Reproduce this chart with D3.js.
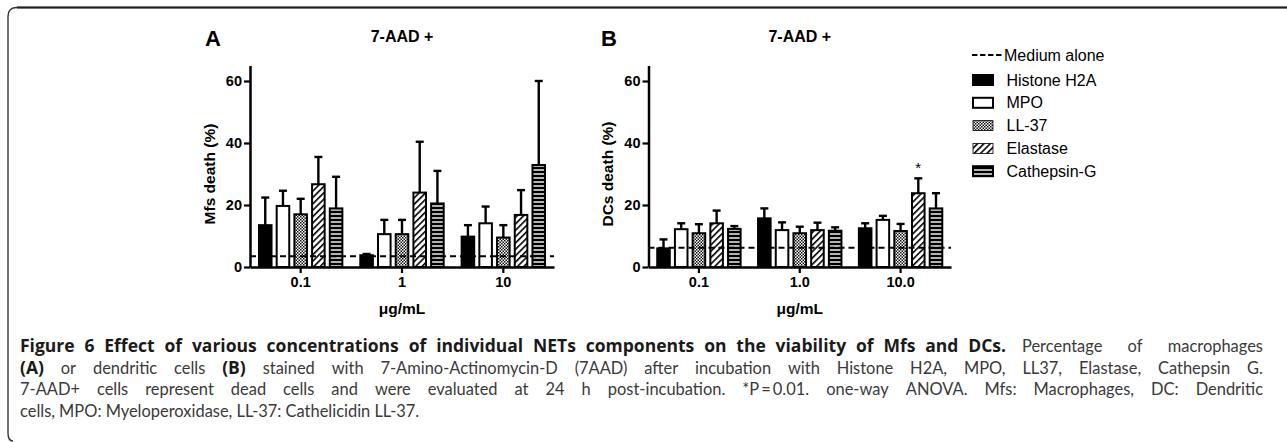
<!DOCTYPE html>
<html>
<head>
<meta charset="utf-8">
<script src="https://cdn.jsdelivr.net/npm/d3@7"></script>
<style>
  body { margin: 0; background: #fff; }
  svg { display: block; }
  .chart text { font-family: "Liberation Sans", Arial, sans-serif; fill: #000; }
  .caption text { font-family: Lato, "Open Sans", sans-serif; }
</style>
</head>
<body>
<div id="chart-container"></div>
<script>
// values (% dead cells, mean and SD)
const series = ["Histone H2A", "MPO", "LL-37", "Elastase", "Cathepsin-G"];
const dosesA = ["0.1", "1", "10"];
const dosesB = ["0.1", "1.0", "10.0"];
const yTicks = [0, 20, 40, 60];

const meanA = [
  [13.5, 3.8, 9.8],
  [19.7, 10.6, 14.1],
  [17.0, 10.6, 9.5],
  [26.7, 24.0, 16.8],
  [18.9, 20.5, 32.9]
];
const sdA = [
  [8.9, 0.4, 3.7],
  [4.9, 4.6, 5.4],
  [5.0, 4.6, 4.0],
  [8.8, 16.4, 8.0],
  [10.2, 10.5, 27.1]
];
const meanB = [
  [6.0, 15.7, 12.5],
  [12.2, 11.9, 15.2],
  [10.9, 10.9, 11.6],
  [14.1, 11.9, 23.8],
  [12.3, 11.7, 18.9]
];
const sdB = [
  [2.9, 3.2, 1.6],
  [1.9, 2.5, 1.3],
  [2.9, 2.1, 2.3],
  [4.1, 2.4, 4.8],
  [0.9, 1.1, 4.9]
];
const mediumA = 3.5;
const mediumB = 6.2;

const width = 1287, height = 442;

const svg = d3.select("#chart-container").append("svg")
  .attr("width", width).attr("height", height);

// fill patterns
const defs = svg.append("defs");
const chk = defs.append("pattern").attr("id", "chk")
  .attr("patternUnits", "userSpaceOnUse").attr("width", 3).attr("height", 3);
chk.append("rect").attr("width", 3).attr("height", 3).attr("fill", "#fff");
chk.append("rect").attr("width", 1.5).attr("height", 1.5).attr("fill", "#111");
chk.append("rect").attr("x", 1.5).attr("y", 1.5).attr("width", 1.5).attr("height", 1.5).attr("fill", "#111");

const hatch = defs.append("pattern").attr("id", "hatch")
  .attr("patternUnits", "userSpaceOnUse").attr("width", 4.5).attr("height", 4.5)
  .attr("patternTransform", "rotate(45)");
hatch.append("rect").attr("width", 4.5).attr("height", 4.5).attr("fill", "#fff");
hatch.append("line").attr("x1", 0.8).attr("x2", 0.8).attr("y1", 0).attr("y2", 4.5)
  .attr("stroke", "#000").attr("stroke-width", 1.6);

const stripe = defs.append("pattern").attr("id", "stripe")
  .attr("patternUnits", "userSpaceOnUse").attr("width", 4).attr("height", 4);
stripe.append("rect").attr("width", 4).attr("height", 4).attr("fill", "#000");
stripe.append("rect").attr("y", 1.3).attr("width", 4).attr("height", 1.4).attr("fill", "#fff");

const fills = ["#000", "#fff", "url(#chk)", "url(#hatch)", "url(#stripe)"];

// figure frame
svg.append("path")
  .attr("d", "M1287,7.5 H17 Q8,7.5 8,16.5 V433 Q8,441 13,441")
  .attr("fill", "none").attr("stroke", "#333").attr("stroke-width", 1.4);
svg.append("line").attr("x1", 17).attr("x2", 1287).attr("y1", 7.5).attr("y2", 7.5)
  .attr("stroke", "#222").attr("stroke-width", 2.2);

const chart = svg.append("g").attr("class", "chart");

function drawPanel(opt) {
  const g = chart.append("g");
  const y = d3.scaleLinear().domain([0, 65]).range([267, 65.5]);
  const x = d3.scaleBand().domain(opt.doses).range(opt.xRange).padding(0);
  const xi = d3.scaleBand().domain(series).range([-41.7, 41.7])
    .paddingInner(0.29).paddingOuter(0);

  // bars
  series.forEach((s, si) => {
    const rows = opt.doses.map((d, di) => ({ dose: d, m: opt.mean[si][di], sd: opt.sd[si][di] }));
    const cx = d => x(d.dose) + x.bandwidth() / 2 + xi(s);

    // error bars (upper only)
    g.selectAll(null).data(rows).enter().append("line")
      .attr("x1", d => cx(d) + xi.bandwidth() / 2).attr("x2", d => cx(d) + xi.bandwidth() / 2)
      .attr("y1", d => y(d.m)).attr("y2", d => y(d.m + d.sd))
      .attr("stroke", "#000").attr("stroke-width", 2.4);
    g.selectAll(null).data(rows).enter().append("line")
      .attr("x1", d => cx(d) + xi.bandwidth() / 2 - 4).attr("x2", d => cx(d) + xi.bandwidth() / 2 + 4)
      .attr("y1", d => y(d.m + d.sd)).attr("y2", d => y(d.m + d.sd))
      .attr("stroke", "#000").attr("stroke-width", 2.4);

    g.selectAll(null).data(rows).enter().append("rect")
      .attr("x", d => cx(d)).attr("width", xi.bandwidth())
      .attr("y", d => y(d.m)).attr("height", d => y(0) - y(d.m))
      .attr("fill", fills[si]).attr("stroke", "#000").attr("stroke-width", 2);
  });

  // medium alone line
  g.append("line")
    .attr("x1", opt.xRange[0]).attr("x2", opt.xRange[1])
    .attr("y1", y(opt.medium)).attr("y2", y(opt.medium))
    .attr("stroke", "#000").attr("stroke-width", 2).attr("stroke-dasharray", "6,4");

  // axes
  const ya = g.append("g").attr("transform", `translate(${opt.xRange[0]},0)`)
    .call(d3.axisLeft(y).tickValues(yTicks).tickSize(6).tickSizeOuter(0).tickPadding(2));
  const xa = g.append("g").attr("transform", `translate(0,${y(0)})`)
    .call(d3.axisBottom(x).tickSize(6).tickSizeOuter(0).tickPadding(4));
  [ya, xa].forEach(a => {
    a.select(".domain").attr("stroke-width", 2.5);
    a.selectAll(".tick line").attr("stroke-width", 2.2);
    a.selectAll(".tick text").style("font-size", "14.5px").style("font-weight", "bold")
      .style("font-family", "'Liberation Sans', Arial, sans-serif");
  });

  // titles
  const cx = (opt.xRange[0] + opt.xRange[1]) / 2;
  g.append("text").attr("x", opt.letterX).attr("y", 45.5).attr("text-anchor", "middle")
    .style("font-size", "22px").style("font-weight", "bold").text(opt.letter);
  g.append("text").attr("x", cx).attr("y", 42).attr("text-anchor", "middle")
    .style("font-size", "16px").style("font-weight", "bold").text("7-AAD +");
  g.append("text").attr("x", cx).attr("y", 314).attr("text-anchor", "middle")
    .style("font-size", "15.5px").style("font-weight", "bold").text("μg/mL");
  g.append("text")
    .attr("transform", `translate(${opt.yLabelX},${(y(0) + y(60)) / 2}) rotate(-90)`)
    .attr("dy", "0.35em").attr("text-anchor", "middle")
    .style("font-size", "15.5px").style("font-weight", "bold").text(opt.yLabel);

  return { x, xi, y };
}

drawPanel({ doses: dosesA, mean: meanA, sd: sdA, medium: mediumA,
  xRange: [250, 554], letter: "A", letterX: 213, yLabelX: 210, yLabel: "Mfs death (%)" });
const pB = drawPanel({ doses: dosesB, mean: meanB, sd: sdB, medium: mediumB,
  xRange: [648.5, 951], letter: "B", letterX: 609, yLabelX: 608, yLabel: "DCs death (%)" });

// significance mark on Elastase at 10.0 in panel B
chart.append("text")
  .attr("x", pB.x("10.0") + pB.x.bandwidth() / 2 + pB.xi("Elastase") + pB.xi.bandwidth() / 2)
  .attr("y", pB.y(meanB[3][2] + sdB[3][2]) - 5)
  .attr("text-anchor", "middle").style("font-size", "15px").text("*");

// legend
const leg = chart.append("g");
leg.append("line").attr("x1", 972).attr("x2", 1002).attr("y1", 55).attr("y2", 55)
  .attr("stroke", "#000").attr("stroke-width", 2.2).attr("stroke-dasharray", "5.5,2.5");
leg.append("text").attr("x", 1004).attr("y", 55).attr("dy", "0.35em")
  .style("font-size", "16px").text("Medium alone");
series.forEach((s, i) => {
  const cy = 80 + i * 22.8;
  leg.append("rect").attr("x", 973).attr("y", cy - 5).attr("width", 20).attr("height", 10)
    .attr("fill", fills[i]).attr("stroke", "#000").attr("stroke-width", i === 2 || i === 3 ? 0.8 : 2);
  leg.append("text").attr("x", 1006.5).attr("y", cy).attr("dy", "0.35em")
    .style("font-size", "16px").text(s);
});

// caption: each segment is justified between x0 and x1 (x1 null = left aligned)
const capTitle = "Figure 6 Effect of various concentrations of individual NETs components on the viability of Mfs and DCs.";
const captionLines = [
  [{ parts: [[capTitle, true]], x0: 20, x1: 1006 },
   { parts: [["Percentage of macrophages", false]], x0: 1022, x1: 1263 }],
  [{ parts: [["(A)", true], ["or dendritic cells", false], ["(B)", true],
     ["stained with 7-Amino-Actinomycin-D (7AAD) after incubation with Histone H2A, MPO, LL37, Elastase, Cathepsin G.", false]],
     x0: 20, x1: 1263 }],
  [{ parts: [["7-AAD+ cells represent dead cells and were evaluated at 24 h post-incubation. *P\u2009=\u20090.01. one-way ANOVA. Mfs: Macrophages, DC: Dendritic", false]],
     x0: 20, x1: 1263 }],
  [{ parts: [["cells, MPO: Myeloperoxidase, LL-37: Cathelicidin LL-37.", false]], x0: 20, x1: null }]
];
const cap = svg.append("g").attr("class", "caption");
const boldFamily = "'Open Sans', Lato, sans-serif";

// size regular text from the unjustified last line, bold text from the title
const probe = cap.append("text").style("font-size", "15px").text(captionLines[3][0].parts[0][0]);
const capSize = 15 * 400 / probe.node().getComputedTextLength();
probe.style("font-family", boldFamily).style("font-weight", "bold").text(capTitle);
const boldSize = Math.max(14, Math.min(17.5, 15 * 950 / probe.node().getComputedTextLength()));

// word width measured on its own, with the style it will be drawn in
function wordWidth(w, bold) {
  probe.style("font-family", bold ? boldFamily : null)
    .style("font-weight", bold ? "bold" : "normal")
    .style("font-size", (bold ? boldSize : capSize) + "px")
    .text(w);
  return probe.node().getComputedTextLength();
}

captionLines.forEach((segs, li) => {
  const yy = 352 + li * 21.5;
  segs.forEach(seg => {
    const words = [];
    seg.parts.forEach(([str, bold]) => str.split(" ").forEach(w => words.push({ w, bold })));
    words.forEach(d => { d.width = wordWidth(d.w, d.bold); });
    const total = d3.sum(words, d => d.width);
    const gap = seg.x1 != null && words.length > 1
      ? (seg.x1 - seg.x0 - total) / (words.length - 1) : capSize * 0.25;
    let xx = seg.x0;
    words.forEach(d => { d.x = xx; xx += d.width + gap; });
    cap.selectAll(null).data(words).enter().append("text")
      .attr("x", d => d.x).attr("y", yy)
      .style("font-family", d => d.bold ? boldFamily : null)
      .style("font-weight", d => d.bold ? "bold" : "normal")
      .style("font-size", d => (d.bold ? boldSize : capSize) + "px")
      .attr("fill", d => d.bold ? "#1a1a1a" : "#3a3a3a")
      .text(d => d.w);
  });
});
probe.remove();
</script>
</body>
</html>
